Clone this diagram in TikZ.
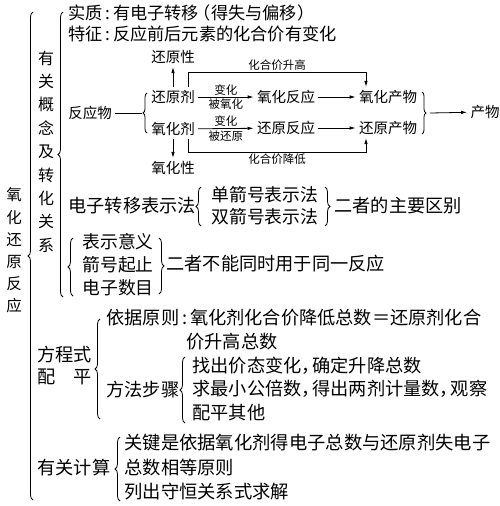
\documentclass[tikz,border=0pt]{standalone}
\usepackage{fontspec}
\setmainfont{Noto Sans CJK SC}
\usetikzlibrary{arrows.meta, decorations.pathreplacing, positioning}
\newcommand{\mao}{\makebox[.6em]{:}}
\newcommand{\dou}{\makebox[.6em][l]{，}}
\newcommand{\zkuo}{\makebox[.7em][r]{（}}
\newcommand{\ykuo}{\makebox[.7em][l]{）}}

\begin{document}
\begin{tikzpicture}[x=1pt, y=-1pt, line width=0.8pt,
		txt/.style={anchor=west, inner sep=0pt, align=left, font=\fontsize{18.2}{23}\selectfont},
		top/.style={txt, font=\fontsize{17.2}{20}\selectfont},
		col/.style={inner sep=0pt, align=center, font=\fontsize{16}{23.4}\selectfont},
		rxn/.style={inner sep=3pt, font=\fontsize{14.5}{16}\selectfont},
		small/.style={inner sep=1.5pt, font=\fontsize{11.5}{13}\selectfont},
		brc/.style={decorate, decoration={brace, amplitude=5pt}},
		sbrc/.style={decorate, decoration={brace, amplitude=4pt}},
		arr/.style={-{Latex[length=6pt, width=3.5pt]}}]
		\useasboundingbox (0,0) rectangle (500,506);

		% left columns
		\node[col, font=\fontsize{15.5}{22.2}\selectfont] (title) at (14,250.5) {氧\\化\\还\\原\\反\\应};
		\draw[brc] (33,500) -- (33,12);
		\node[col] (gainian) at (46,151.5) {有\\关\\概\\念\\及\\转\\化\\关\\系};
		\draw[brc] (63,297) -- (63,12);

		\node[top] (shizhi) at (68,13) {实质\mao 有电子转移\zkuo 得失与偏移\ykuo};
		\node[top] (tezheng) at (68,34) {特征\mao 反应前后元素的化合价有变化};

		% reaction scheme
		\node[rxn] (fyw) at (90,113) {反应物};
		\node[rxn] (hyj) at (173,97) {还原剂};
		\node[rxn] (yhj) at (173,129) {氧化剂};
		\node[rxn] (hyx) at (173,57) {还原性};
		\node[rxn] (yhx) at (173,168) {氧化性};
		\node[rxn] (yhfy) at (286,97) {氧化反应};
		\node[rxn] (hyfy) at (286,128) {还原反应};
		\node[rxn] (yhcw) at (388,97) {氧化产物};
		\node[rxn] (hycw) at (388,128) {还原产物};
		\node[rxn] (cw) at (485,112) {产物};
		\coordinate (fyj) at (142,113);
		\coordinate (cwj) at (430,113);
		\coordinate (tl) at (188,72);
		\coordinate (tr) at (366,72);
		\coordinate (bl) at (188,152);
		\coordinate (br) at (366,152);

		\draw (fyw) -- (fyj);
		\draw[sbrc] (147,133) -- (147,93);
		\draw[sbrc] (422,92) -- (422,134);
		\draw[arr] (cwj) -- (cw);
		\draw[arr] (hyj) -- (hyx);
		\draw[arr] (yhj) -- (yhx);
		\draw[arr] (hyj) -- node[small, above] {变化} node[small, below] {被氧化} (yhfy);
		\draw[arr] (yhj) -- node[small, above] {变化} node[small, below] {被还原} (hyfy);
		\draw[arr] (yhfy) -- (yhcw);
		\draw[arr] (hyfy) -- (hycw);
		\draw[arr] (hyj.north -| tl) -- (tl) -- node[small, above] {化合价升高} (tr) -- (yhcw.north -| tr);
		\draw[arr] (yhj.south -| bl) -- (bl) -- node[small, below] {化合价降低} (br) -- (hycw.south -| br);

		% electron transfer
		\node[txt] (zhuanyi) at (68,206) {电子转移表示法};
		\draw[brc] (201,226) -- (201,187);
		\node[txt, font=\fontsize{17.8}{22}\selectfont] (fa) at (211,206) {单箭号表示法\\双箭号表示法};
		\draw[brc] (325,187) -- (325,226);
		\node[txt] (qubie) at (334,206) {二者的主要区别};
		\draw[brc] (73,296) -- (73,238);
		\node[txt, font=\fontsize{17.8}{23}\selectfont] (yiyi) at (82,265) {表示意义\\箭号起止\\电子数目};
		\draw[brc] (159,238) -- (159,294);
		\node[txt] (butong) at (166,264) {二者不能同时用于同一反应};

		% balancing
		\node[txt, font=\fontsize{18.2}{22}\selectfont] (peiping) at (37,366) {方程式\\配\quad 平};
		\draw[brc] (100,419) -- (100,319);
		\node[txt] (yiju) at (106,318) {依据原则\mao 氧化剂化合价降低总数＝还原剂化合};
		\node[txt] (yiju2) at (186,342) {价升高总数};
		\node[txt] (fangfa) at (106,390) {方法步骤};
		\draw[brc] (185,423) -- (185,357);
		\node[txt, font=\fontsize{18.2}{23.5}\selectfont] (buzhou) at (192,388.5) {找出价态变化\dou 确定升降总数\\求最小公倍数\dou 得出两剂计量数\dou 观察\\配平其他};

		% calculation
		\node[txt] (jisuan) at (37,468) {有关计算};
		\draw[brc] (120,501) -- (120,437);
		\node[txt, font=\fontsize{18.3}{24.5}\selectfont] (guanjian) at (124,467.5) {关键是依据氧化剂得电子总数与还原剂失电子\\总数相等原则\\列出守恒关系式求解};
\end{tikzpicture}
\end{document}
